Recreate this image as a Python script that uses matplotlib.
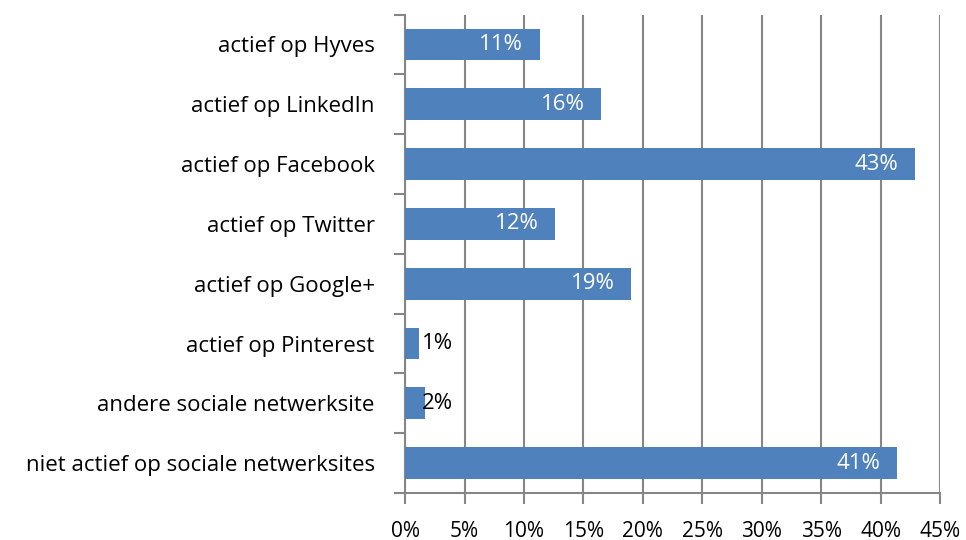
import numpy as np
import matplotlib.pyplot as plt
from matplotlib.ticker import MultipleLocator, FixedLocator, NullFormatter

# data (top to bottom as in the chart)
categories = ["actief op Hyves", "actief op LinkedIn", "actief op Facebook",
              "actief op Twitter", "actief op Google+", "actief op Pinterest",
              "andere sociale netwerksite", "niet actief op sociale netwerksites"]
values = [11.3, 16.5, 42.9, 12.6, 19.0, 1.2, 1.7, 41.4]
value_labels = ["11%", "16%", "43%", "12%", "19%", "1%", "2%", "41%"]

bar_color = "#4F81BD"
grid_color = "#868686"

plt.rcParams['font.family'] = ['Open Sans', 'DejaVu Sans']

fig = plt.figure(figsize=(9.66, 5.4), dpi=100)
ax = fig.add_axes([0.4195, 0.087, 0.5535, 0.886])

y = np.arange(len(categories))
ax.barh(y, values, height=0.53, color=bar_color, zorder=3)

ax.set_xlim(0, 45)
ax.set_ylim(len(categories) - 0.5, -0.5)

ax.xaxis.set_major_locator(MultipleLocator(5))
ax.set_xticklabels([f"{int(v)}%" for v in ax.get_xticks()])
ax.grid(axis='x', color=grid_color, linewidth=1.5, zorder=0)

# category ticks at boundaries, labels at centres
ax.yaxis.set_major_locator(FixedLocator(np.arange(-0.5, len(categories), 1)))
ax.yaxis.set_major_formatter(NullFormatter())
ax.yaxis.set_minor_locator(FixedLocator(y))
ax.set_yticklabels(categories, minor=True)
ax.tick_params(axis='y', which='minor', length=0, pad=22, labelsize=16)
ax.tick_params(axis='y', which='major', length=8, width=1.5, color=grid_color)
ax.tick_params(axis='x', length=8, width=1.5, color=grid_color, labelsize=15, pad=12)

for side in ['top', 'right']:
    ax.spines[side].set_visible(False)
for side in ['left', 'bottom']:
    ax.spines[side].set_color(grid_color)
    ax.spines[side].set_linewidth(1.5)

# value labels
for yi, v, lab in zip(y, values, value_labels):
    if v < 5:
        ax.text(1.4, yi, lab, ha='left', va='center', color='black', fontsize=16, zorder=4)
    else:
        ax.text(v - 1.4, yi, lab, ha='right', va='center', color='white', fontsize=16, zorder=4)

fig.savefig("out.png", dpi=100)
